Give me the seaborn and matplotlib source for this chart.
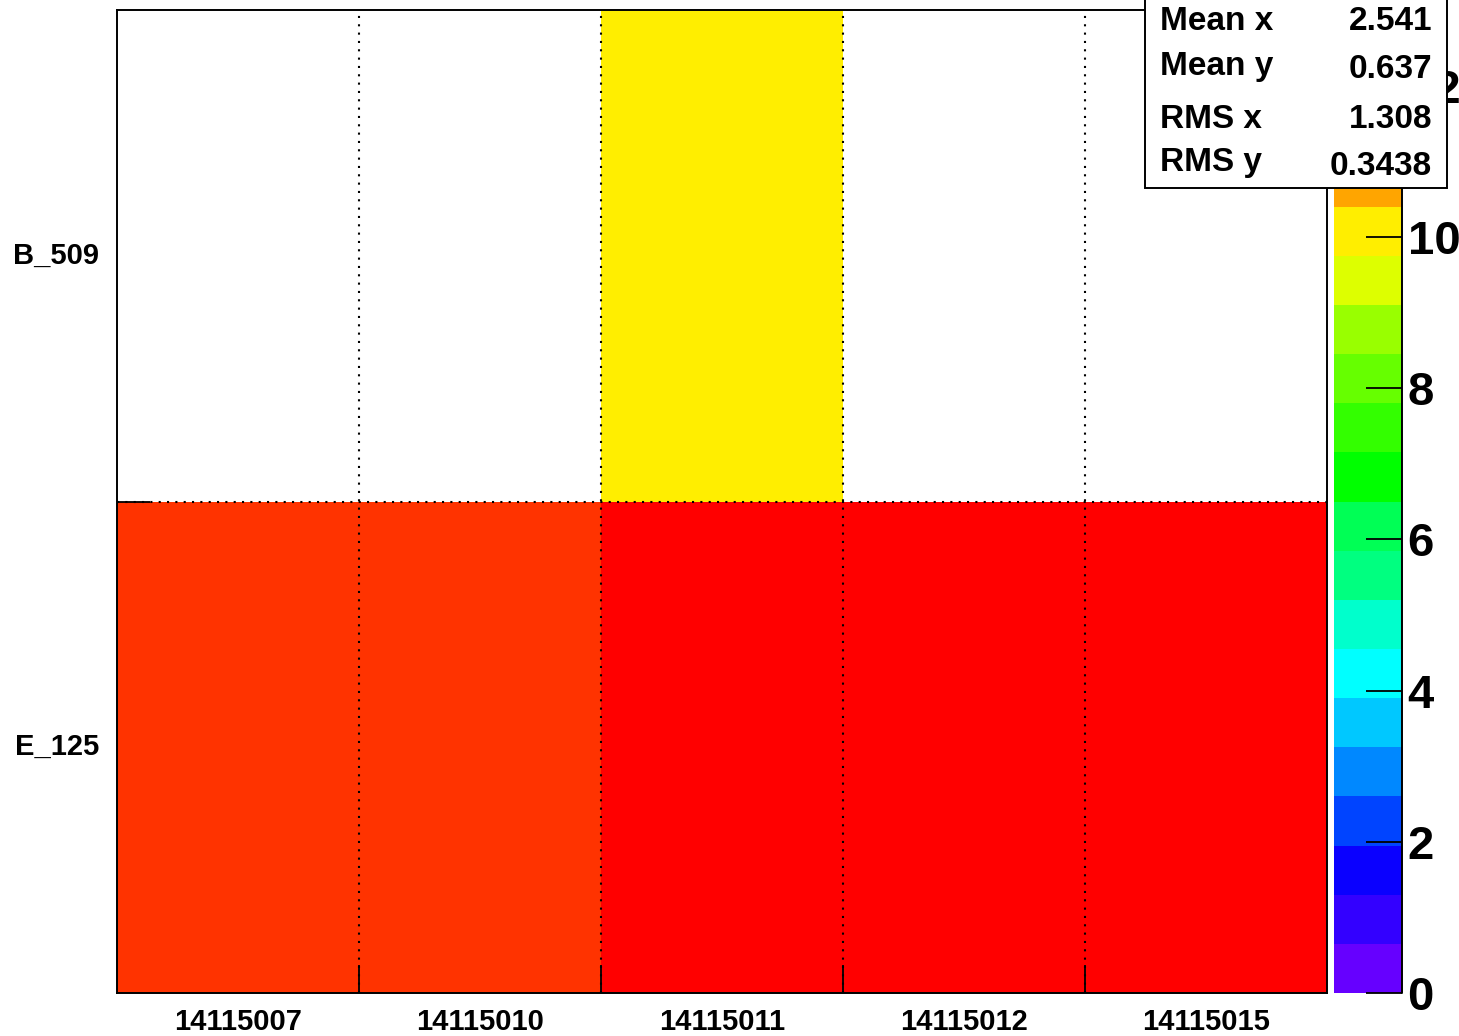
import numpy as np
import pandas as pd
import matplotlib
matplotlib.use('Agg')
import matplotlib.pyplot as plt
import seaborn as sns
from matplotlib.colors import ListedColormap
from matplotlib.patches import Rectangle

# ------------------------------------------------------------------
# Data (entries per run and chamber)
# ------------------------------------------------------------------
runs = ['14115007', '14115010', '14115011', '14115012', '14115015']
chambers = ['B_509', 'E_125']          # top row first
counts_B509 = [0, 0, 10, 0, 0]
counts_E125 = [12, 12, 13, 13, 13]

z_max = 13
cbar_ticks = [0, 2, 4, 6, 8, 10, 12]

# ROOT-like 20 level rainbow palette (bottom to top)
palette = ['#6600ff', '#3300ff', '#0a00ff', '#0044ff', '#0088ff',
           '#00c8ff', '#00ffff', '#00ffcc', '#00ff80', '#00ff55',
           '#00ff00', '#33ff00', '#66ff00', '#99ff00', '#ddff00',
           '#ffee00', '#ffa500', '#ff7700', '#ff3300', '#ff0000']

df = pd.DataFrame([counts_B509, counts_E125], index=chambers, columns=runs)

# stats box values (ROOT style)
xc = np.arange(len(runs)) + 0.5
yc = np.array([1.5, 0.5])
w = df.values.astype(float)
W = w.sum()
mean_x = (w * xc[None, :]).sum() / W
mean_y = (w * yc[:, None]).sum() / W
rms_x = np.sqrt((w * (xc[None, :] - mean_x) ** 2).sum() / W)
rms_y = np.sqrt((w * (yc[:, None] - mean_y) ** 2).sum() / W)
stats = [('Mean x', mean_x), ('Mean y', mean_y), ('RMS x', rms_x), ('RMS y', rms_y)]

# ------------------------------------------------------------------
# Figure
# ------------------------------------------------------------------
sns.set_style('white')
plt.rcParams['font.family'] = ['Liberation Sans', 'DejaVu Sans']
plt.rcParams['font.weight'] = 'bold'
plt.rcParams['axes.axisbelow'] = False
plt.rcParams['text.color'] = 'black'
plt.rcParams['xtick.color'] = 'black'
plt.rcParams['ytick.color'] = 'black'
plt.rcParams['axes.labelcolor'] = 'black'

W_px, H_px = 1459, 1036
fig = plt.figure(figsize=(W_px / 100, H_px / 100), dpi=100)

def fx(px):
    return px / W_px

def fy(py):
    return 1 - py / H_px

ax = fig.add_axes([fx(117), fy(993), fx(1327) - fx(117), fy(10) - fy(993)])
cax = fig.add_axes([fx(1334), fy(993), fx(1402) - fx(1334), fy(10) - fy(993)])

cmap = ListedColormap(palette)
sns.heatmap(df, mask=(df == 0), cmap=cmap, vmin=0, vmax=z_max,
            ax=ax, cbar_ax=cax, linewidths=0)
ax.set_axisbelow(False)
cax.set_axisbelow(False)

# axis ticks: labels at bin centres, tick marks at bin edges
ax.set_xticks(xc)
ax.set_xticklabels(runs, rotation=0, fontsize=21, fontweight='bold')
ax.set_yticks([0.5, 1.5])
ax.set_yticklabels(chambers, rotation=0, fontsize=21, fontweight='bold')
ax.tick_params(axis='both', which='major', length=0)
ax.tick_params(axis='x', which='major', pad=11)
ax.tick_params(axis='y', which='major', pad=13)
ax.set_xticks(np.arange(1, len(runs)), minor=True)
ax.set_yticks([1], minor=True)
ax.tick_params(axis='x', which='minor', direction='in', length=20, width=1.3,
               color='black', bottom=True, top=False)
ax.tick_params(axis='y', which='minor', direction='in', length=24, width=1.3,
               color='black', left=True, right=False)
ax.set_xlabel('')
ax.set_ylabel('')

# dotted grid over the cells
for xb in range(1, len(runs)):
    ax.axvline(xb, color='black', lw=1.5, ls=(0, (1, 3)), zorder=3)
ax.axhline(1, color='black', lw=1.5, ls=(0, (1, 3)), zorder=3)

for s in ax.spines.values():
    s.set_visible(True)
    s.set_color('black')
    s.set_linewidth(1.4)

# colour bar
cbar = ax.collections[0].colorbar
cbar.set_ticks(cbar_ticks)
cbar.set_ticklabels([str(t) for t in cbar_ticks])
cbar.outline.set_visible(False)
cax.tick_params(axis='y', which='major', direction='in', length=26, width=1.3,
                color='black', right=True, left=False, pad=4, labelsize=34,
                labelcolor='black')
cax.tick_params(axis='y', which='minor', length=0)
for lab in cax.get_yticklabels():
    lab.set_fontweight('bold')
cax.plot([1, 1], [0, z_max], color='black', lw=1.4, clip_on=False, zorder=5)

# stats box
box = Rectangle((fx(1145), fy(188)), fx(1447) - fx(1145), fy(-20) - fy(188),
                transform=fig.transFigure, facecolor='white', edgecolor='black',
                lw=1.4, zorder=10)
fig.add_artist(box)
label_base = [30, 75, 128, 171]
value_base = [30, 78, 128, 175]
for (name, val), lb, vb in zip(stats, label_base, value_base):
    fig.text(fx(1160), fy(lb), name, ha='left', va='baseline', fontsize=24,
             fontweight='bold', zorder=11)
    fig.text(fx(1432), fy(vb), f'{val:.4g}', ha='right', va='baseline',
             fontsize=24, fontweight='bold', zorder=11)

plt.savefig('out.png', dpi=100)
plt.close(fig)
